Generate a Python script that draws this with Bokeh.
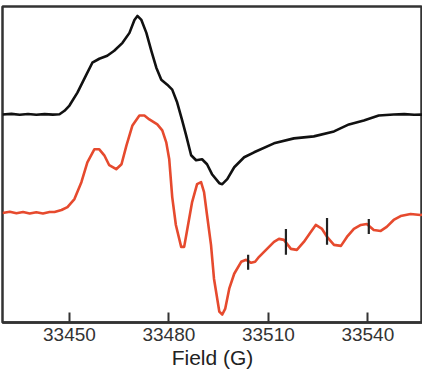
from bokeh.plotting import figure
from bokeh.models import Range1d, FixedTicker
from bokeh.embed import file_html
from bokeh.resources import INLINE

# Black spectrum (field in G, signal in arbitrary units)
black_field = [33429.8, 33432.5, 33435.0, 33437.5, 33440.0, 33442.5, 33445.0, 33447.0,
               33448.5, 33450.0, 33452.4, 33455.1, 33456.9, 33459.0, 33461.4, 33463.5,
               33466.0, 33468.1, 33469.6, 33470.5, 33471.7, 33473.2, 33474.7, 33476.2,
               33477.7, 33479.5, 33481.0, 33482.5, 33484.0, 33485.2, 33486.7, 33488.2,
               33490.0, 33491.5, 33493.0, 33495.2, 33496.1, 33497.6, 33499.7, 33502.7,
               33505.7, 33511.7, 33517.7, 33523.7, 33529.8, 33534.3, 33538.8, 33543.3,
               33547.8, 33551.0, 33554.0, 33559.3]
black_signal = [208.0, 208.6, 207.7, 208.5, 207.8, 208.4, 207.9, 208.2,
                211.7, 217.0, 230.0, 248.0, 260.0, 264.0, 267.0, 272.0,
                280.0, 290.0, 303.0, 307.0, 303.0, 290.0, 272.0, 255.0,
                243.0, 238.0, 233.0, 220.0, 202.0, 187.0, 167.0, 162.0,
                163.0, 158.0, 148.0, 139.0, 138.0, 143.0, 155.0, 165.0,
                170.0, 179.0, 184.0, 186.0, 191.0, 198.0, 202.0, 207.0,
                208.0, 208.4, 207.8, 208.0]

# Red spectrum
red_field = [33429.8, 33432.0, 33434.0, 33436.0, 33438.0, 33440.0, 33442.0, 33444.0,
             33445.5, 33447.6, 33449.4, 33451.5, 33453.6, 33455.4, 33457.5, 33459.0,
             33460.5, 33462.0, 33464.1, 33465.7, 33467.2, 33469.0, 33471.1, 33472.6,
             33474.1, 33476.5, 33478.0, 33479.2, 33480.1, 33481.0, 33482.1, 33483.7,
             33484.6, 33485.4, 33487.0, 33488.5, 33489.7, 33490.6, 33491.5, 33492.7,
             33493.6, 33495.2, 33496.1, 33497.0, 33498.2, 33499.7, 33501.8, 33503.3,
             33504.8, 33506.0, 33507.2, 33509.6, 33511.7, 33513.2, 33514.7, 33516.8,
             33518.6, 33520.7, 33522.8, 33524.3, 33526.2, 33527.7, 33529.8, 33531.9,
             33533.7, 33535.8, 33537.9, 33539.7, 33541.8, 33543.9, 33545.7, 33547.8,
             33549.9, 33552.9, 33555.9, 33559.3]
red_signal = [109.0, 110.2, 108.8, 110.0, 108.5, 109.8, 108.6, 110.1,
              110.0, 112.0, 115.0, 123.0, 140.0, 160.0, 173.0, 173.0,
              167.0, 157.0, 153.0, 158.0, 177.0, 197.0, 207.0, 207.0,
              203.0, 198.0, 192.0, 180.0, 163.0, 125.0, 97.0, 75.0,
              75.0, 90.0, 120.0, 138.0, 140.0, 130.0, 107.0, 77.0,
              43.0, 10.0, 7.0, 13.0, 33.0, 48.0, 60.0, 62.0,
              59.0, 60.0, 65.0, 73.0, 80.0, 83.0, 82.0, 73.0,
              72.0, 80.0, 90.0, 97.0, 93.0, 85.0, 77.0, 76.0,
              85.0, 93.0, 97.0, 98.0, 92.0, 91.0, 95.0, 102.0,
              106.0, 108.0, 107.0, 109.0]

# Hyperfine marker positions and extents
marker_field = [33503.9, 33515.3, 33527.7, 33540.3]
marker_low = [52.0, 67.0, 77.0, 88.0]
marker_high = [67.0, 93.0, 104.0, 103.0]

x_ticks = [33450, 33480, 33510, 33540]

p = figure(width=422, height=371, output_backend="svg", toolbar_location=None,
           x_range=Range1d(33429.8, 33556.5), y_range=Range1d(-1.0, 316.5),
           min_border_left=2, min_border_right=0, min_border_top=6, min_border_bottom=0)
p.outline_line_color = "#333333"
p.outline_line_width = 2.5
p.grid.visible = False
p.background_fill_color = "white"
p.border_fill_color = "white"

p.line(black_field, black_signal, line_color="#111111", line_width=2.6, line_join="round")
p.line(red_field, red_signal, line_color="#e64a2e", line_width=2.6, line_join="round")
p.segment(x0=marker_field, y0=marker_low, x1=marker_field, y1=marker_high,
          line_color="#222222", line_width=2.2)

xa = p.xaxis[0]
xa.ticker = FixedTicker(ticks=x_ticks)
xa.axis_line_width = 2.5
xa.axis_line_color = "#333333"
xa.major_tick_in = 10
xa.major_tick_out = 0
xa.major_tick_line_width = 2
xa.major_tick_line_color = "#333333"
xa.minor_tick_line_color = None
xa.major_label_text_font = "Liberation Sans"
xa.major_label_text_font_size = "19px"
xa.major_label_text_color = "#333333"
xa.major_label_standoff = 5
xa.axis_label = "Field (G)"
xa.axis_label_text_font = "Liberation Sans"
xa.axis_label_text_font_size = "21px"
xa.axis_label_text_font_style = "normal"
xa.axis_label_text_color = "#222222"
xa.axis_label_standoff = 2

p.yaxis.visible = False

open("out.html", "w").write(file_html(p, INLINE))
